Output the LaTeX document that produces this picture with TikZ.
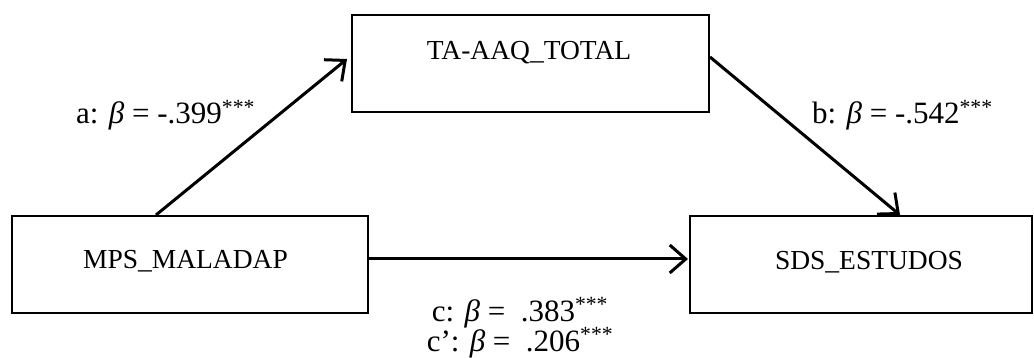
\documentclass[tikz,border=0pt]{standalone}
\usepackage{fontspec}
\setmainfont{Liberation Serif}
\usetikzlibrary{arrows.meta}
\begin{document}
\begin{tikzpicture}[x=1pt,y=-1pt,
  box/.style={draw=black,line width=2pt,minimum width=#1,minimum height=97pt,inner sep=0pt},
  boxtext/.style={anchor=base,inner sep=0pt,font=\fontsize{27.5}{30}\selectfont},
  coef/.style={inner sep=0pt,font=\fontsize{31}{34}\selectfont},
  path/.style={line width=3pt,-{Straight Barb[length=16pt,width=28pt,line width=3pt]}}]
\useasboundingbox (0,0) rectangle (1034,358);
% boxes
\node[box=357pt] (ta) at (530.5,63.5) {};
\node[box=356pt] (mps) at (190,264.5) {};
\node[box=342pt] (sds) at (861,264.5) {};
% box texts
\node[boxtext] (tat) at (529,60) {TA-AAQ\_TOTAL};
\node[boxtext] (mpst) at (185.5,268.5) {MPS\_MALADAP};
\node[boxtext] (sdst) at (869,269.5) {SDS\_ESTUDOS};
% connectors
\draw[path] ([xshift=145pt]mps.north west) -- ([shift={(-4pt,4.5pt)}]ta.west);
\draw[path] ([yshift=6.5pt]ta.east) -- ([xshift=211pt]sds.north west);
\draw[path] ([yshift=5.5pt]mps.east) -- ([shift={(-1pt,5.5pt)}]sds.west);
% labels
\node[coef,anchor=base west] (la) at (76,124) {a: \textit{β} = -.399\textsuperscript{***}};
\node[coef,anchor=base west] (lb) at (812,124) {b: \textit{β} = -.542\textsuperscript{***}};
\node[coef,anchor=base] (lc) at (520,321) {c: \textit{β} =\ \ .383\textsuperscript{***}};
\node[coef,anchor=base] (lcp) at (520,351) {c’: \textit{β} =\ \ .206\textsuperscript{***}};
\end{tikzpicture}
\end{document}
